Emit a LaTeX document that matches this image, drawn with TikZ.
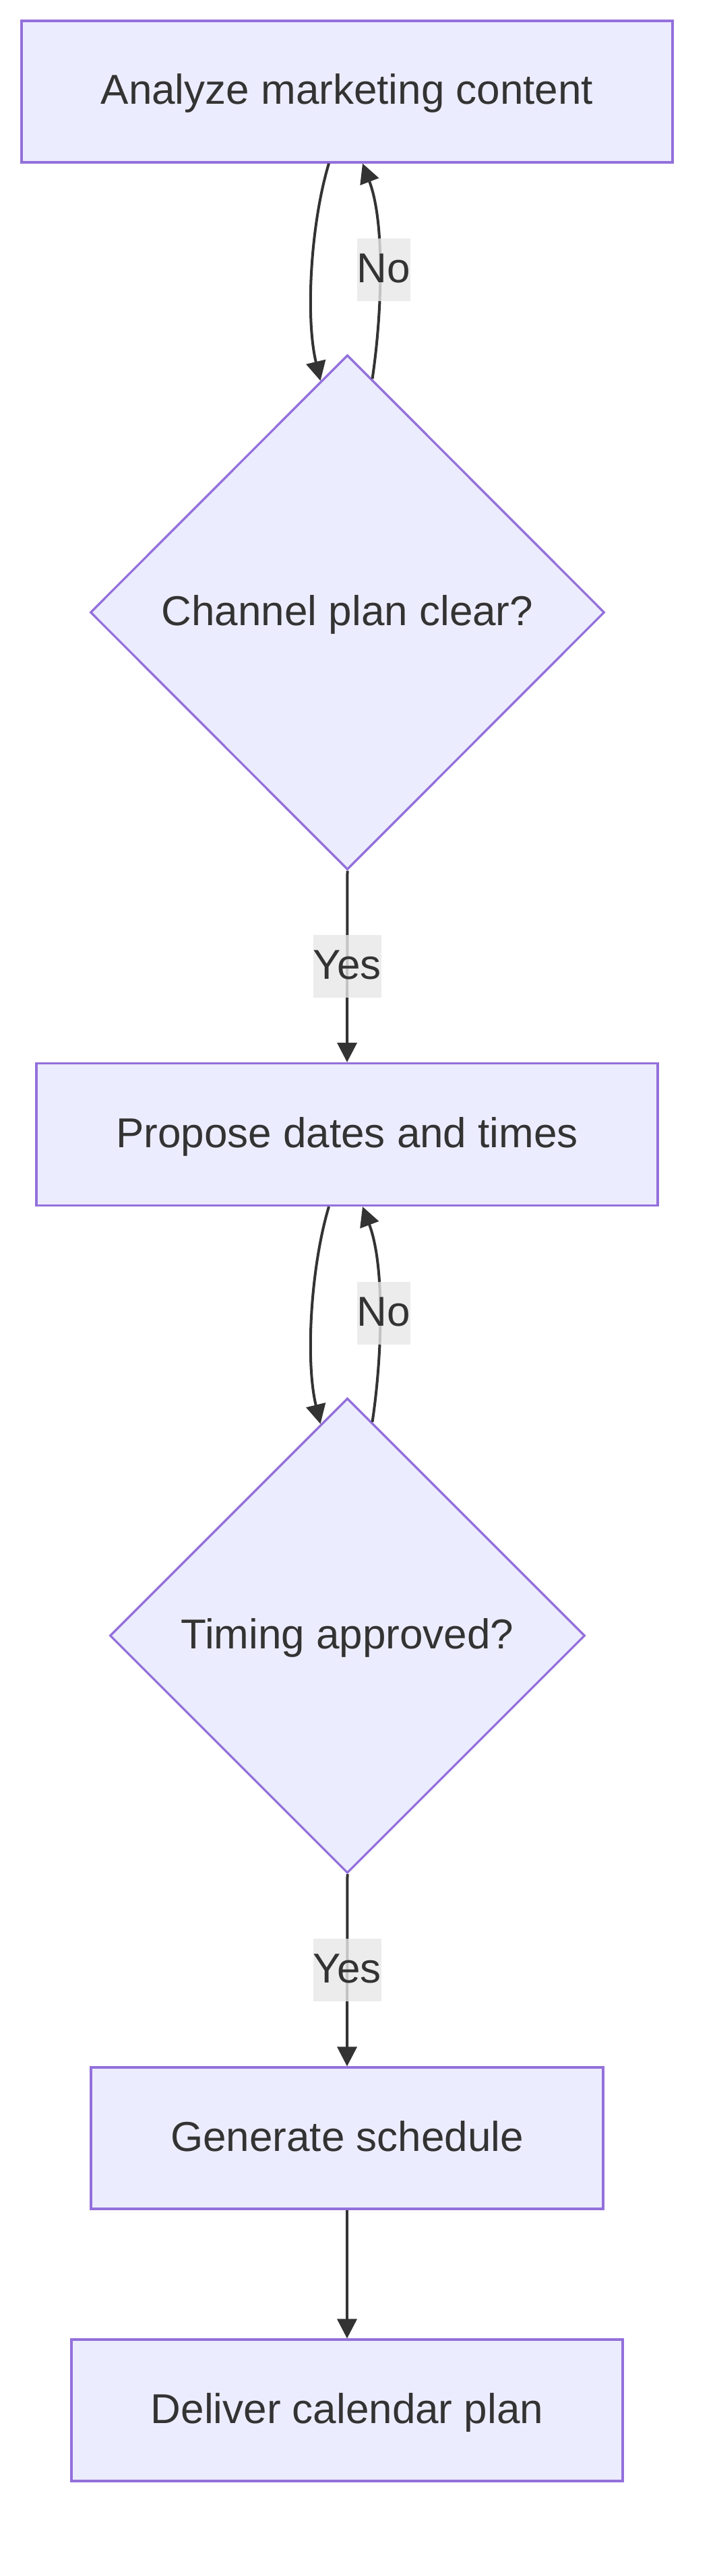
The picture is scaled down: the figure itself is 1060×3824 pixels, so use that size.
\documentclass[tikz,border=0pt]{standalone}
\usepackage{fontspec}
\setmainfont{Liberation Sans}
\usetikzlibrary{shapes.geometric,arrows.meta,calc}
\definecolor{nodefill}{HTML}{ECECFF}
\definecolor{nodeborder}{HTML}{9370DB}
\definecolor{ink}{HTML}{333333}
\definecolor{lblbg}{HTML}{E8E8E8}
\tikzset{
  box/.style={rectangle, draw=nodeborder, fill=nodefill, line width=3.3pt, inner sep=0pt, text height=50pt, text depth=12pt},
  decision/.style={diamond, aspect=1, draw=nodeborder, fill=nodefill, line width=3.3pt, inner sep=0pt, text height=50pt, text depth=12pt},
  lbl/.style={fill=lblbg, fill opacity=0.8, text opacity=1, inner xsep=0pt, inner ysep=0pt, minimum height=93pt, text height=50pt, text depth=12pt},
  conn/.style={draw=ink, line width=4pt, -{Triangle[length=29pt,width=29pt]}}
}
\begin{document}
\begin{tikzpicture}[x=1pt, y=-1pt, font=\fontsize{62}{74}\selectfont, text=ink]
\fill[white] (0,0) rectangle (1060,3824);
\useasboundingbox (0,0) rectangle (1060,3824);

\node[box, minimum width=966pt, minimum height=210pt] (a) at (515,136) {Analyze marketing content};
\node[decision, minimum width=763pt, minimum height=764pt] (d1) at (515.5,909) {Channel plan clear?};
\node[box, minimum width=922pt, minimum height=211pt] (b) at (515,1684) {Propose dates and times};
\node[decision, minimum width=705pt, minimum height=705pt] (d2) at (515.5,2428) {Timing approved?};
\node[box, minimum width=760pt, minimum height=210pt] (c) at (515,3174) {Generate schedule};
\node[box, minimum width=818pt, minimum height=210pt] (e) at (515,3578) {Deliver calendar plan};

\draw[conn] ($(a.south)+(-27,0)$) .. controls ($(a.south)+(-54,89)$) and ($(a.south)+(-62,229)$) .. ($(d1.north)+(-40,40)$);
\draw[conn] ($(d1.north)+(37,37)$) .. controls ($(d1.north)+(51,-57)$) and ($(a.south)+(57,89)$) .. ($(a.south)+(23,0)$) node[lbl, pos=0.5, xshift=6pt] {No};
\draw[conn] (d1.south) -- (b.north) node[lbl, midway] {Yes};

\draw[conn] ($(b.south)+(-27,0)$) .. controls ($(b.south)+(-54,90)$) and ($(b.south)+(-62,230)$) .. ($(d2.north)+(-40,40)$);
\draw[conn] ($(d2.north)+(37,37)$) .. controls ($(d2.north)+(51,-56)$) and ($(b.south)+(57,90)$) .. ($(b.south)+(23,0)$) node[lbl, pos=0.5, xshift=6pt] {No};
\draw[conn] (d2.south) -- (c.north) node[lbl, midway] {Yes};

\draw[conn] (c.south) -- (e.north);
\end{tikzpicture}
\end{document}
